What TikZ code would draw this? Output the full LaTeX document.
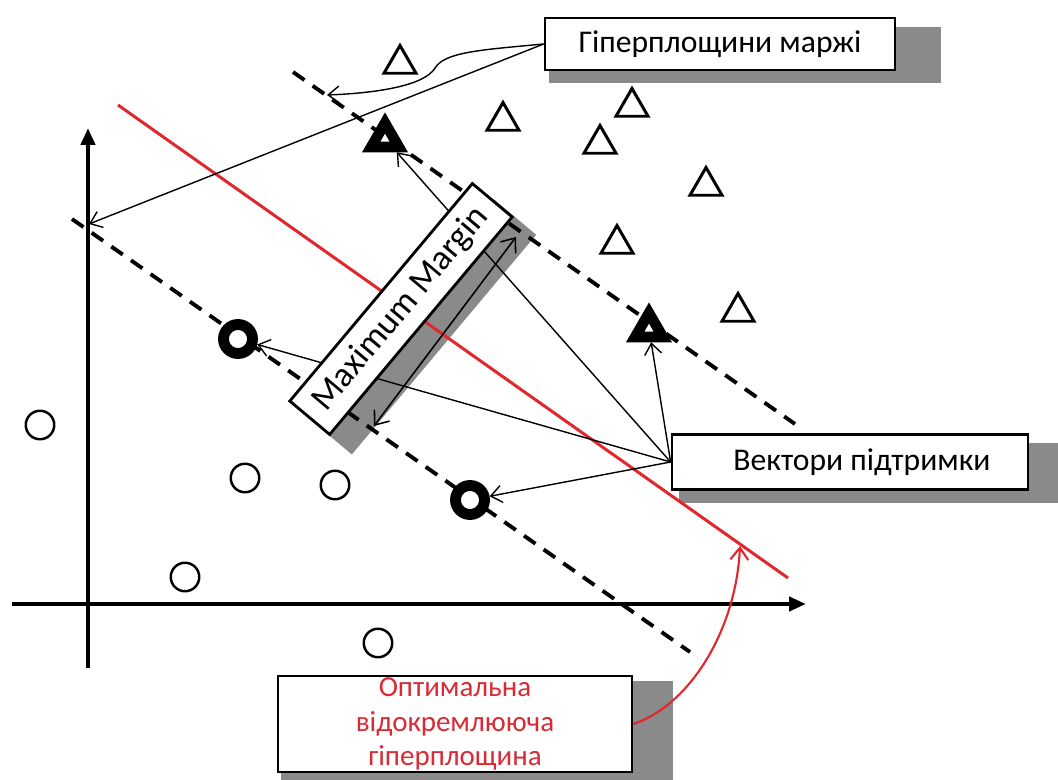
\documentclass[tikz,border=0pt]{standalone}
\usepackage{fontspec}
\setmainfont{Carlito}
\usetikzlibrary{arrows.meta,backgrounds,shapes.geometric}
\definecolor{svmred}{HTML}{E3262B}
\definecolor{svmtext}{HTML}{D92B35}
\definecolor{svmshadow}{HTML}{8A8A8A}
\tikzset{
  axisline/.style={line width=2.8pt,-{Triangle[length=3.4mm,width=2.8mm]}},
  marginline/.style={line width=2.2pt,dash pattern=on 2.8mm off 2mm},
  hyper/.style={draw=svmred,line width=1.7pt},
  tri/.style={regular polygon,regular polygon sides=3,draw,line width=1.7pt,minimum size=7.4mm,inner sep=0pt},
  circ/.style={circle,draw,line width=1.4pt,minimum size=5.7mm,inner sep=0pt},
  svtri/.style={regular polygon,regular polygon sides=3,draw,fill=white,line width=6pt,minimum size=6.4mm,inner sep=0pt},
  svcirc/.style={circle,draw,fill=white,line width=6.2pt,minimum size=5.8mm,inner sep=0pt},
  labelbox/.style={rectangle,draw,fill=white,line width=1.6pt,inner sep=0pt,font=\fontsize{18}{22}\selectfont},
  boxshadow/.style={fill=svmshadow},
  pointer/.style={line width=.8pt,-{Straight Barb[length=2.2mm,width=3.4mm]}},
}

\begin{document}
\begin{tikzpicture}[x=0.02cm,y=-0.02cm]
  \useasboundingbox (0,0) rectangle (1058,780);

  % ---------------- axes ----------------
  \coordinate (ybot) at (88,668);
  \coordinate (ytop) at (88,128);
  \coordinate (xleft) at (12,604);
  \coordinate (xright) at (806,604);
  \draw[axisline] (ybot) -- (ytop);
  \draw[axisline] (xleft) -- (xright);

  % ---------------- hyperplanes ----------------
  \coordinate (up1) at (293,72);
  \coordinate (up2) at (795,424);
  \coordinate (lo1) at (72,219);
  \coordinate (lo2) at (690,652);
  \coordinate (op1) at (118,105);
  \coordinate (op2) at (788,578);
  \draw[marginline] (up1) -- (up2);
  \draw[marginline] (lo1) -- (lo2);
  \draw[hyper] (op1) -- (op2);

  % ---------------- samples ----------------
  \foreach \x/\y [count=\i] in {400/64, 503/121, 632/107, 600/144, 706/186, 617/244, 738/312}
    \node[tri] (t\i) at (\x,\y) {};
  \foreach \x/\y [count=\i] in {40/425, 245/478, 335/485, 185/577, 378/643}
    \node[circ] (c\i) at (\x,\y) {};
  \node[svtri] (sv1) at (385,139) {};
  \node[svtri] (sv2) at (649,329) {};
  \node[svcirc] (sv3) at (238,339) {};
  \node[svcirc] (sv4) at (470,500) {};

  % ---------------- labels ----------------
  \node[labelbox,minimum width=7cm,minimum height=1.04cm] (hyp) at (720,44) {Гіперплощини маржі};
  \node[labelbox,minimum width=7.12cm,minimum height=1.1cm] (vec) at (850,462) {\hspace*{.48cm}Вектори підтримки};
  \node[labelbox,minimum width=7.08cm,minimum height=1.92cm,text=svmtext,align=center,
    font=\fontsize{16.5}{19.9}\selectfont] (opt) at (455,724) {Оптимальна\\відокремлююча\\гіперплощина};

  % ---------------- pointers ----------------
  \coordinate (umark) at (327,95);
  \coordinate (ymark) at (89,224);
  \coordinate (ophit) at (740,546);
  \coordinate (mlo) at (374,426);
  \coordinate (mhi) at (516,237);
  \draw[pointer] (hyp.west) .. controls (480,50) and (445,52) .. (435,68)
    .. controls (425,85) and (380,93) .. (umark);
  \draw[pointer] (hyp.west) -- (ymark);
  \foreach \s in {sv1,sv2,sv3,sv4}
    \draw[pointer] (vec.west) -- (\s);
  \draw[line width=.9pt,{Straight Barb[length=2.4mm,width=3.8mm]}-{Straight Barb[length=2.4mm,width=3.8mm]}] (mlo) -- (mhi);
  \draw[hyper,line width=1.2pt,-{Straight Barb[length=2.4mm,width=3.6mm]}] (opt.east)
    .. controls (690,705) and (736,630) .. (ophit);

  \node[labelbox,rotate=50,minimum width=5.68cm,minimum height=1.04cm,
    font=\fontsize{20}{24}\selectfont] (mm) at (401,309) {Maximum Margin};

  % shadows
  \begin{scope}[on background layer]
    \fill[boxshadow] ([shift={(5,10)}]hyp.north west) rectangle ([shift={(45,12)}]hyp.south east);
    \fill[boxshadow] ([shift={(8,10)}]vec.north west) rectangle ([shift={(40,12)}]vec.south east);
    \fill[boxshadow] ([shift={(4,6)}]opt.north west) rectangle ([shift={(40,13)}]opt.south east);
    \fill[boxshadow] ([shift={(22,18)}]mm.north west) -- ([shift={(22,18)}]mm.north east)
      -- ([shift={(22,18)}]mm.south east) -- ([shift={(22,18)}]mm.south west) -- cycle;
  \end{scope}
\end{tikzpicture}
\end{document}
